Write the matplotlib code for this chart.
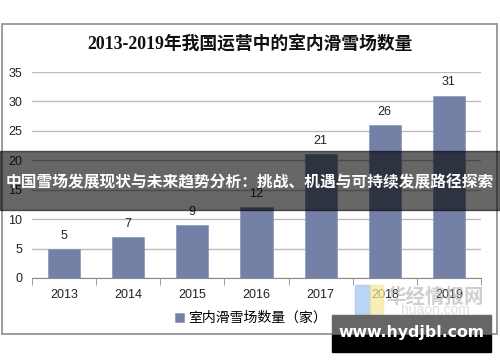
import matplotlib.pyplot as plt
from matplotlib.patches import Rectangle
import numpy as np

plt.rcParams['font.family'] = ['Liberation Sans', 'Noto Sans CJK SC', 'DejaVu Sans']

years = ['2013', '2014', '2015', '2016', '2017', '2018', '2019']
counts = [5, 7, 9, 12, 21, 26, 31]
title = '2013-2019年我国运营中的室内滑雪场数量'
series_name = '室内滑雪场数量（家）'
banner = '中国雪场发展现状与未来趋势分析：挑战、机遇与可持续发展路径探索'
site = 'www.hydjbl.com'

W, H = 500, 362
fig = plt.figure(figsize=(W / 100, H / 100), dpi=100)

def fx(px):
    return px / W

def fy(py):
    return 1 - py / H

# chart frame
fig.patches.append(Rectangle((fx(2), fy(334)), fx(495), 310 / H, transform=fig.transFigure,
                             fill=False, edgecolor='#8c8c8c', linewidth=1.2))

ax = fig.add_axes([fx(32), fy(278), fx(449), (278 - 72) / H])
x = np.arange(len(years))
bars = ax.bar(x, counts, width=0.5, color='#7480a6', edgecolor='#8a95b8', linewidth=0.5,
              label=series_name, zorder=3)
for xi, v in zip(x, counts):
    ax.text(xi, v + 1.2, str(v), ha='center', va='bottom', fontsize=9, color='#222222')

ax.set_ylim(0, 35)
ax.set_xlim(-0.5, len(years) - 0.5)
ax.set_yticks(range(0, 36, 5))
ax.yaxis.grid(True, color='#bdbdbd', linewidth=1, zorder=0)
ax.set_xticks(x)
ax.set_xticklabels(years)
ax.set_xticks(np.arange(-0.5, len(years), 1), minor=True)
ax.tick_params(axis='x', which='major', length=0, pad=8, labelsize=9, labelcolor='#222222')
ax.tick_params(axis='x', which='minor', length=5, color='#8c8c8c', direction='out')
ax.tick_params(axis='y', length=0, pad=7, labelsize=9, labelcolor='#222222')
for s in ['top', 'right', 'left']:
    ax.spines[s].set_visible(False)
ax.spines['bottom'].set_color('#8c8c8c')

fig.text(0.5, fy(44), title, ha='center', va='center', fontsize=12.8, fontweight='bold',
         family=['Liberation Serif', 'Noto Sans CJK SC'], color='#111111')

leg = fig.legend(handles=[bars], labels=[series_name], loc='center', bbox_to_anchor=(fx(251), fy(318)),
                 frameon=False, fontsize=10, handlelength=0.6, handleheight=0.6, handletextpad=0.3)

# faint watermark logo
fig.patches.append(Rectangle((fx(355), fy(318)), fx(15), 33 / H, transform=fig.transFigure,
                             color='#9dc3f0', alpha=0.7, zorder=5))
fig.patches.append(Rectangle((fx(370), fy(318)), fx(13), 33 / H, transform=fig.transFigure,
                             color='#f7e89a', alpha=0.7, zorder=5))
fig.text(fx(435), fy(297), '华经情报网', ha='center', va='center', fontsize=14, fontweight='bold',
         color='#b0b0b0', alpha=0.6, zorder=6)
fig.text(fx(435), fy(310), 'huaon.com', ha='center', va='center', fontsize=10,
         color='#c8c8c8', alpha=0.6, zorder=6)

# overlay banner
fig.patches.append(Rectangle((0, fy(210)), 1, 59 / H, transform=fig.transFigure,
                             color='black', alpha=0.6, zorder=10))
fig.text(0.5, fy(183), banner, ha='center', va='center', fontsize=11.3, fontweight='bold',
         color='white', zorder=11)

# site watermark box
fig.patches.append(Rectangle((fx(332), fy(335)), fx(159), 20 / H, transform=fig.transFigure,
                             color='#666666', zorder=10))
fig.patches.append(Rectangle((fx(332), fy(352)), fx(159), 17 / H, transform=fig.transFigure,
                             color='black', zorder=10))
fig.text(fx(411), fy(333), site, ha='center', va='center', fontsize=11.3, fontweight='bold',
         family=['DejaVu Sans'], color='white', zorder=11)

fig.savefig('out.png', dpi=100)
